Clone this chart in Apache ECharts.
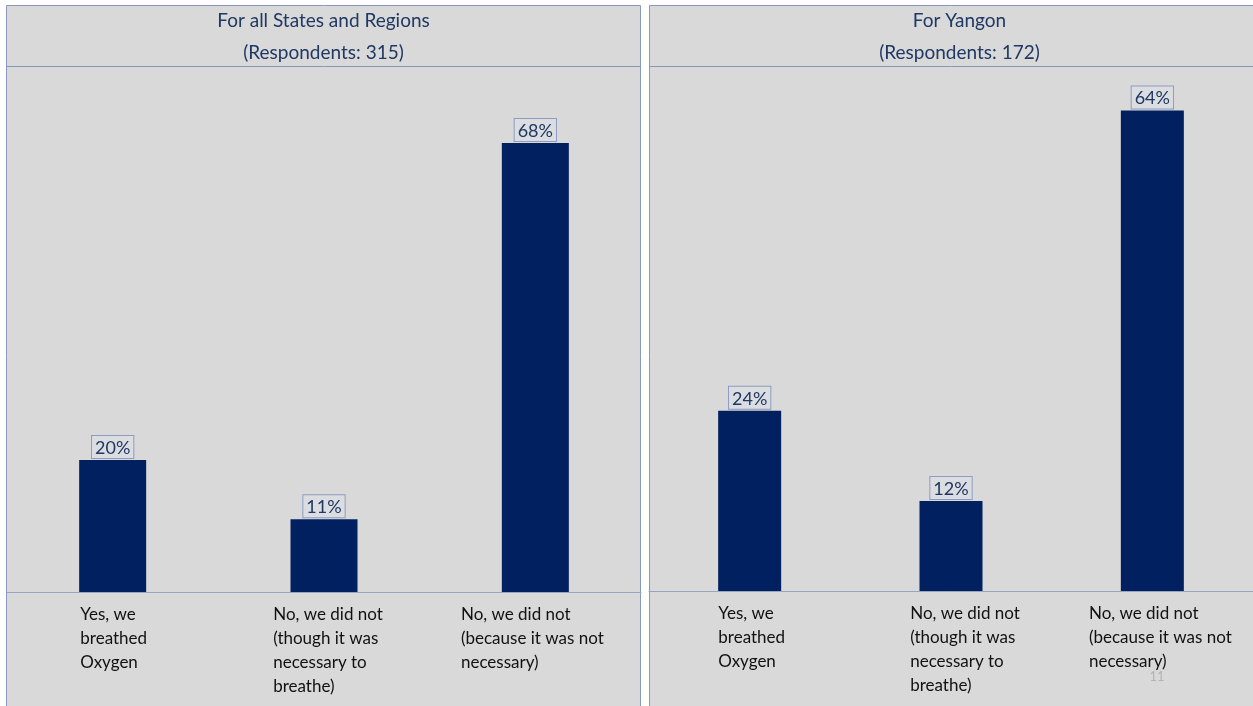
<!DOCTYPE html>
<html>
<head>
<meta charset="utf-8">
<script src="https://cdn.jsdelivr.net/npm/echarts@6/dist/echarts.min.js"></script>
<style>
  html, body { margin: 0; padding: 0; background: #ffffff; }
  #chart { width: 1253px; height: 706px; }
</style>
</head>
<body>
<div id="chart"></div>
<script>
// Answer options (shared by both panels)
const categories = [
  'Yes, we\nbreathed\nOxygen',
  'No, we did not\n(though it was\nnecessary to\nbreathe)',
  'No, we did not\n(because it was not\nnecessary)'
];

// Share of respondents, in percent
const allRegionsPct = [20, 11, 68];
const yangonPct = [24, 12, 64];

// Panel headings
const allRegionsTitle = ['For all States and Regions', '(Respondents: 315)'];
const yangonTitle = ['For Yangon', '(Respondents: 172)'];
const pageNumber = '11';

const NAVY = '#002060';
const TEXT_NAVY = '#1f3864';
const PANEL_FILL = '#d9d9d9';
const PANEL_LINE = '#8a99ba';
const FONT = 'Lato, "Open Sans", sans-serif';

const chart = echarts.init(document.getElementById('chart'), null, { renderer: 'canvas' });

// Each category label is a left-aligned text block centred under its bar;
// per-label padding nudges the block sideways.
function xAxisFor(gridIndex, pads) {
  const rich = {};
  pads.forEach(function (p, i) {
    rich['c' + i] = {
      align: 'left', fontFamily: FONT, fontSize: 17, lineHeight: 24,
      color: '#111111', padding: [0, p[1], 0, p[0]]
    };
  });
  return {
    type: 'category',
    gridIndex: gridIndex,
    data: categories,
    axisTick: { show: false },
    axisLine: { show: true, lineStyle: { color: '#98a5c2', width: 1 } },
    axisLabel: {
      interval: 0,
      margin: 11,
      align: 'center',
      verticalAlign: 'top',
      formatter: function (v, i) { return '{c' + i + '|' + v + '}'; },
      rich: rich
    }
  };
}

function yAxisFor(gridIndex, max) {
  return {
    type: 'value',
    gridIndex: gridIndex,
    min: 0,
    max: max,
    show: false,
    splitLine: { show: false }
  };
}

function barSeries(idx, data, width) {
  return {
    type: 'bar',
    xAxisIndex: idx,
    yAxisIndex: idx,
    data: data,
    barWidth: width,
    itemStyle: { color: NAVY },
    label: {
      show: true,
      position: 'top',
      distance: 2,
      formatter: '{c}%',
      fontFamily: FONT,
      fontSize: 18,
      color: TEXT_NAVY,
      backgroundColor: '#dcdde1',
      borderColor: '#8d9cc0',
      borderWidth: 1,
      padding: [3, 3, 1, 3]
    }
  };
}

function panelGraphics(x, w, title) {
  return [
    {
      type: 'rect', z: -10, silent: true,
      shape: { x: x, y: 5.5, width: w, height: 720 },
      style: { fill: PANEL_FILL, stroke: PANEL_LINE, lineWidth: 1 }
    },
    {
      type: 'line', z: -9, silent: true,
      shape: { x1: x, y1: 66.5, x2: x + w, y2: 66.5 },
      style: { stroke: PANEL_LINE, lineWidth: 1 }
    },
    {
      type: 'text', silent: true,
      x: x + w / 2, y: 21,
      style: {
        text: title[0], fill: TEXT_NAVY, fontFamily: FONT, fontSize: 19,
        align: 'center', verticalAlign: 'middle'
      }
    },
    {
      type: 'text', silent: true,
      x: x + w / 2, y: 53,
      style: {
        text: title[1], fill: TEXT_NAVY, fontFamily: FONT, fontSize: 19,
        align: 'center', verticalAlign: 'middle'
      }
    }
  ];
}

const option = {
  backgroundColor: '#ffffff',
  animation: false,
  grid: [
    { left: 7, right: 612, top: 67, bottom: 114, containLabel: false },
    { left: 649, right: -1, top: 67, bottom: 115, containLabel: false }
  ],
  xAxis: [
    xAxisFor(0, [[2, 0], [8, 0], [0, 6]]),
    xAxisFor(1, [[4, 0], [28, 0], [16, 0]])
  ],
  yAxis: [yAxisFor(0, 79.5), yAxisFor(1, 69.8)],
  series: [
    barSeries(0, allRegionsPct, 67),
    barSeries(1, yangonPct, 63)
  ],
  graphic: [].concat(
    panelGraphics(6.5, 634, allRegionsTitle),
    panelGraphics(649.5, 620, yangonTitle),
    [{
      type: 'text', silent: true,
      x: 1157, y: 677,
      style: {
        text: pageNumber, fill: '#b3b3b3', fontFamily: FONT, fontSize: 13,
        align: 'center', verticalAlign: 'middle'
      }
    }]
  )
};

chart.setOption(option);
</script>
</body>
</html>
